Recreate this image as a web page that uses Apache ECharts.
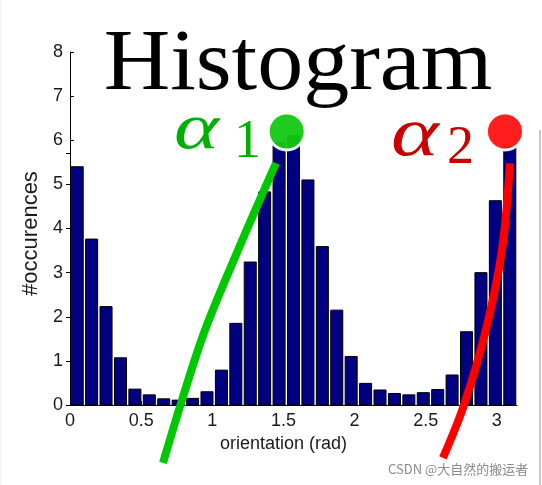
<!DOCTYPE html>
<html>
<head>
<meta charset="utf-8">
<script src="https://cdn.jsdelivr.net/npm/echarts@6/dist/echarts.min.js"></script>
<style>
html,body{margin:0;padding:0;background:#fff;}
#c{width:542px;height:485px;}
</style>
</head>
<body>
<div id="c"></div>
<script>
// ---- data ----
const binCount = 31;                 // bins over [0, pi]
const counts = [5.40, 3.76, 2.23, 1.07, 0.36, 0.23, 0.14, 0.11, 0.15, 0.30,
                0.79, 1.85, 3.24, 4.83, 5.95, 6.10, 5.10, 3.59, 2.15, 1.10,
                0.49, 0.34, 0.26, 0.23, 0.28, 0.35, 0.68, 1.66, 3.00, 4.63, 5.85];
const xTickLabels = ['0', '0.5', '1', '1.5', '2', '2.5', '3'];
const yTickLabels = ['0', '1', '2', '3', '4', '5', '6', '7', '8'];
// annotation curves (orientation, count)
const alpha1Curve = [[0.654, -1.31], [0.787, 0.11], [0.949, 1.70], [1.181, 3.51], [1.448, 5.48]];
const alpha2Curve = [[2.621, -1.20], [2.769, 0], [2.923, 1.70], [3.036, 3.51], [3.092, 5.48]];
const alpha1Point = [1.523, 6.20];
const alpha2Point = [3.057, 6.20];

const XMAX = Math.PI;
const binW = XMAX / binCount;
const histData = counts.map((v, i) => [i * binW, (i + 1) * binW, v]);

const chart = echarts.init(document.getElementById('c'), null, {renderer: 'canvas'});
const tickFont = {fontFamily: '"Liberation Sans", Arial, sans-serif', fontSize: 18, color: '#1a1a1a'};

const option = {
  animation: false,
  backgroundColor: '#fff',
  grid: [
    {left: 70, right: 25, top: 52, bottom: 80},
    {left: 70, right: 25, top: 153, bottom: 80}
  ],
  xAxis: [
    {
      type: 'value', gridIndex: 0, min: 0, max: XMAX, interval: 0.5,
      axisLine: {lineStyle: {color: '#000', width: 1}},
      axisTick: {inside: true, length: 4, lineStyle: {color: '#000'}},
      splitLine: {show: false},
      axisLabel: Object.assign({margin: 7, showMaxLabel: false,
        formatter: v => { const k = Math.round(v / 0.5); return Math.abs(v - k * 0.5) < 1e-6 && xTickLabels[k] !== undefined ? xTickLabels[k] : ''; }}, tickFont),
      name: 'orientation (rad)', nameLocation: 'middle', nameGap: 28,
      nameTextStyle: Object.assign({}, tickFont, {padding: [0, 20, 0, 0]})
    },
    {type: 'value', gridIndex: 1, min: 0, max: XMAX, show: false}
  ],
  yAxis: [
    {
      type: 'value', gridIndex: 0, min: 0, max: 8, interval: 1,
      axisLine: {show: true, lineStyle: {color: '#000', width: 1}},
      axisTick: {show: true, inside: true, length: 4, lineStyle: {color: '#000'}},
      splitLine: {show: false},
      axisLabel: Object.assign({margin: 7, formatter: v => yTickLabels[Math.round(v)] || ''}, tickFont),
      name: '#occurences', nameLocation: 'middle', nameGap: 20,
      nameTextStyle: Object.assign({}, tickFont, {fontSize: 22, padding: [0, 10, 0, 0]})
    },
    {
      type: 'value', gridIndex: 1, position: 'right', min: 0, max: 252 / 44.125, interval: 1,
      axisLine: {show: true, lineStyle: {color: '#000', width: 1}},
      axisTick: {show: true, inside: true, length: 4, lineStyle: {color: '#000'}},
      axisLabel: {show: false}, splitLine: {show: false}
    }
  ],
  series: [
    {
      type: 'custom', xAxisIndex: 0, yAxisIndex: 0,
      encode: {x: [0, 1], y: 2},
      data: histData,
      renderItem: function (params, api) {
        const p0 = api.coord([api.value(0), api.value(2)]);
        const p1 = api.coord([api.value(1), 0]);
        return {
          type: 'rect',
          shape: {x: p0[0] + 1.2, y: p0[1], width: p1[0] - p0[0] - 2.4, height: p1[1] - p0[1]},
          style: {fill: '#000080', stroke: '#000', lineWidth: 1}
        };
      },
      z: 2
    },
    {
      type: 'scatter', data: [alpha1Point], symbolSize: 37, clip: false,
      itemStyle: {color: '#12c812', borderColor: '#fff', borderWidth: 3, opacity: 0.95}, z: 4
    },
    {
      type: 'scatter', data: [alpha2Point], symbolSize: 37, clip: false,
      itemStyle: {color: '#ff1212', borderColor: '#fff', borderWidth: 3, opacity: 0.95}, z: 4
    },
    {
      type: 'line', data: alpha1Curve, smooth: 0.35, clip: false, symbol: 'none',
      lineStyle: {color: '#00c800', width: 8}, z: 5
    },
    {
      type: 'line', data: alpha2Curve, smooth: 0.35, clip: false, symbol: 'none',
      lineStyle: {color: '#ff0000', width: 8}, z: 5
    }
  ],
  graphic: [
    {type: 'line', shape: {x1: 1, y1: 0, x2: 1, y2: 485}, style: {stroke: '#ececec', lineWidth: 1}, z: 1},
    {type: 'line', shape: {x1: 540, y1: 130, x2: 540, y2: 485}, style: {stroke: '#c8c8c8', lineWidth: 2}, z: 1},
    {type: 'text', x: 298, y: 66, scaleX: 1.07, z: 10, style: {text: 'Histogram', font: '86px "Liberation Serif", serif', fill: '#000', textAlign: 'center', textVerticalAlign: 'middle'}},
    {type: 'text', x: 174, y: 131, scaleX: 1.3, z: 10, style: {text: 'α', font: 'italic 66px "Liberation Serif", serif', fill: '#00b000', textAlign: 'left', textVerticalAlign: 'middle'}},
    {type: 'text', x: 234, y: 143, z: 10, style: {text: '1', font: '54px "Liberation Serif", serif', fill: '#00b000', textAlign: 'left', textVerticalAlign: 'middle'}},
    {type: 'text', x: 391, y: 137, scaleX: 1.3, z: 10, style: {text: 'α', font: 'italic 70px "Liberation Serif", serif', fill: '#c80000', textAlign: 'left', textVerticalAlign: 'middle'}},
    {type: 'text', x: 447, y: 149, z: 10, style: {text: '2', font: '54px "Liberation Serif", serif', fill: '#c80000', textAlign: 'left', textVerticalAlign: 'middle'}},
    {type: 'text', x: 388, y: 469, z: 10, style: {text: 'CSDN @大自然的搬运者', font: '13px "Noto Sans CJK SC", sans-serif', fill: '#8a8a8a', textAlign: 'left', textVerticalAlign: 'middle'}}
  ]
};
chart.setOption(option);
</script>
</body>
</html>
